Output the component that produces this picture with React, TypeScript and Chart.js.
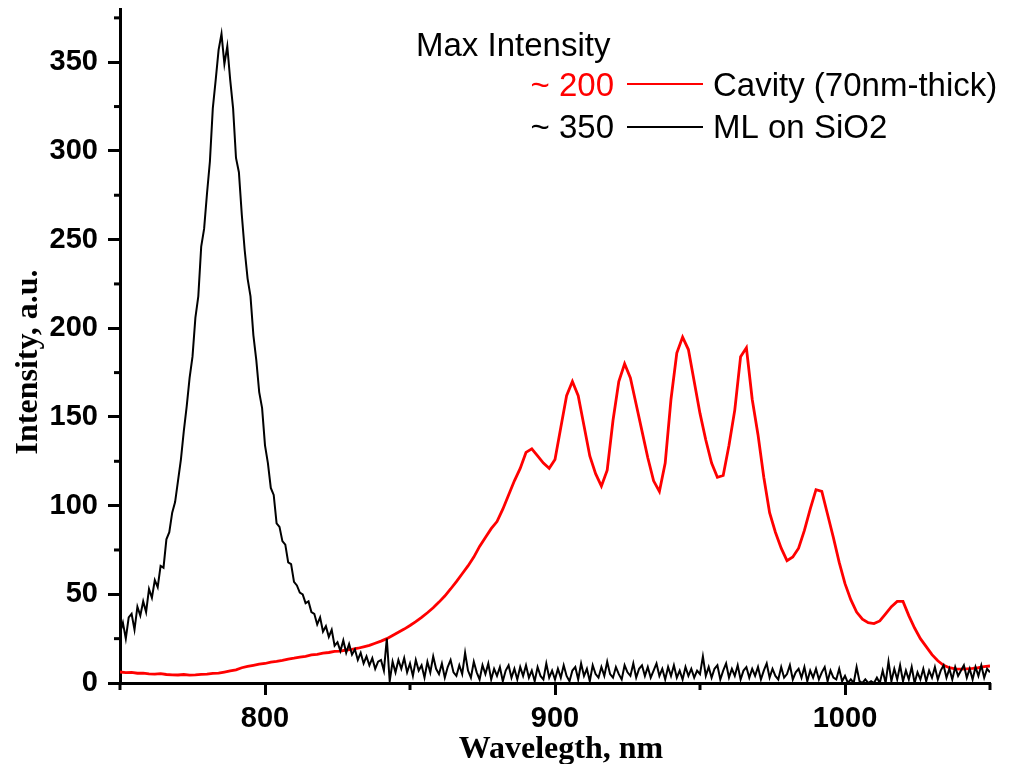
import { useEffect, useRef } from "react";
import { Chart, registerables } from "chart.js";
Chart.register(...registerables);

// ML on SiO2 spectrum, 1 nm steps from 750 nm
const mlStart = 750;
const mlStep = 1;
const mlValues = [
  28, 34, 25, 37, 39, 30, 43, 38, 46, 40,
  53, 48, 58, 54, 66, 65, 81, 85, 96, 102,
  114, 126, 142, 156, 172, 184, 206, 218, 246, 256,
  276, 294, 324, 340, 357, 366, 349, 359, 340, 324,
  296, 288, 264, 244, 228, 218, 196, 182, 164, 155,
  134, 124, 110, 106, 90, 88, 80, 78, 68, 67,
  57, 55, 51, 50, 45, 46, 40, 39, 33, 37,
  29, 32, 26, 30, 21, 23, 18, 24, 17, 22,
  16, 19, 13, 17, 11, 15, 10, 14, 8, 12,
  13, 7, 25, 1, 12, 6, 13, 8, 14, 6,
  11, 4, 13, 7, 10, 3, 12, 6, 15, 8,
  5, 11, 3, 9, 13, 6, 4, 10, 5, 17,
  7, 3, 12, 6, 2, 10, 5, 11, 2, 8,
  4, 9, 1, 7, 10, 3, 8, 2, 9, 4,
  10, 3, 7, 1, 9, 4, 2, 11, 3, 7,
  2, 8, 3, 10, 4, 1, 7, 9, 2, 11,
  4, 8, 1, 10, 5, 3, 9, 4, 12, 5,
  3, 9, 5, 2, 10, 6, 4, 11, 3, 8,
  10, 4, 9, 3, 7, 11, 4, 8, 2, 9,
  4, 10, 3, 7, 2, 9, 4, 8, 3, 7,
  5, 15, 4, 9, 3, 8, 10, 2, 7, 11,
  3, 8, 4, 10, 2, 7, 9, 3, 8, 4,
  9, 2, 7, 11, 3, 8, 4, 2, 9, 3,
  5, 10, 2, 6, 8, 3, 9, 1, 7, 3,
  8, 2, 6, 9, 1, 7, 3, 2, 8, 1,
  4, 0, 2, 0, 9, 1, 0, 2, 0, 1,
  0, 3, 0, 7, 0, 12, 1, 8, 2, 10,
  1, 7, 2, 9, 0, 6, 2, 8, 1, 7,
  3, 9, 2, 7, 10, 3, 8, 2, 9, 4,
  7, 10, 3, 8, 2, 9, 4, 10, 3, 8, 6,
];

// Cavity spectrum, 2 nm steps from 750 nm
const cavityStart = 750;
const cavityStep = 2;
const cavityValues = [
  6.2, 5.8, 6.0, 5.5, 5.6, 5.2, 5.0, 5.3, 4.8, 4.6,
  4.5, 4.8, 4.4, 4.6, 4.9, 5.0, 5.4, 5.6, 6.2, 6.8,
  7.4, 8.6, 9.4, 10.0, 10.6, 11.0, 11.8, 12.2, 12.8, 13.5,
  14.0, 14.6, 15.0, 15.8, 16.2, 16.8, 17.2, 17.8, 18.0, 18.6,
  19.0, 19.6, 20.4, 21.2, 22.4, 23.6, 25.0, 26.8, 28.6, 30.4,
  32.4, 34.6, 37.0, 39.6, 42.4, 45.6, 49.0, 53.0, 57.2, 61.6,
  66.0, 71.0, 77.0, 82.0, 87.0, 91.0, 98.0, 106.0, 114.0, 121.0,
  130, 132, 128, 124, 121, 126, 144, 162, 170, 162,
  145, 128, 118, 111, 120, 148, 170, 180, 172, 157,
  142, 127, 114, 108, 124, 160, 186, 195, 188, 170,
  152, 137, 124, 116, 117, 134, 154, 184, 189, 160,
  140, 116, 96, 85, 76, 69, 71, 76, 86, 98,
  109, 108, 95, 82, 68, 56, 47, 40, 36, 34,
  33.5, 35, 39, 43, 46, 46, 38, 31, 25, 20.5,
  16, 12.5, 10, 8.6, 8, 7.8, 8, 8.2, 8.6, 9.2,
  9.6,
];

const xMin = 750;
const xMax = 1050;
const yMin = 0;
const yMax = 380;
const xTicks = [800, 900, 1000];
const xMinorTicks = [750, 850, 950, 1050];
const yTicks = [0, 50, 100, 150, 200, 250, 300, 350];
const yMinorTicks = [25, 75, 125, 175, 225, 275, 325, 375];

const legendTitle = "Max Intensity";
const seriesNames = ["Cavity (70nm-thick)", "ML on SiO2"];
const seriesMax = ["~ 200", "~ 350"];
const seriesColors = ["#ff0000", "#000000"];
const xTitle = "Wavelegth, nm";
const yTitle = "Intensity, a.u.";

const SANS = "'Liberation Sans', Arial, sans-serif";
const SERIF = "'Liberation Serif', 'Times New Roman', serif";

const decorPlugin = {
  id: "decor",
  afterDraw(chart: any) {
    const ctx = chart.ctx;
    const xs = chart.scales.x;
    const ys = chart.scales.y;
    const area = chart.chartArea;
    ctx.save();
    ctx.strokeStyle = "#000";
    ctx.lineWidth = 3;
    ctx.lineCap = "butt";
    for (const v of xMinorTicks) {
      const px = xs.getPixelForValue(v);
      ctx.beginPath();
      ctx.moveTo(px, area.bottom);
      ctx.lineTo(px, area.bottom + 7);
      ctx.stroke();
    }
    for (const v of yMinorTicks) {
      const py = ys.getPixelForValue(v);
      ctx.beginPath();
      ctx.moveTo(area.left - 6, py);
      ctx.lineTo(area.left, py);
      ctx.stroke();
    }
    ctx.fillStyle = "#000";
    ctx.font = `bold 32px ${SERIF}`;
    ctx.textAlign = "center";
    ctx.textBaseline = "alphabetic";
    ctx.fillText(xTitle, 561, 758);
    ctx.save();
    ctx.translate(37, 362);
    ctx.rotate(-Math.PI / 2);
    ctx.fillText(yTitle, 0, 0);
    ctx.restore();
    ctx.font = `33px ${SANS}`;
    ctx.textAlign = "left";
    ctx.fillStyle = "#000";
    ctx.fillText(legendTitle, 416, 56);
    const rowsBase = [96, 138];
    const rowsLine = [84, 127];
    for (let i = 0; i < seriesNames.length; i++) {
      ctx.fillStyle = seriesColors[i];
      ctx.textAlign = "right";
      ctx.fillText(seriesMax[i], 614, rowsBase[i]);
      ctx.strokeStyle = seriesColors[i];
      ctx.lineWidth = 2;
      ctx.beginPath();
      ctx.moveTo(627, rowsLine[i]);
      ctx.lineTo(703, rowsLine[i]);
      ctx.stroke();
      ctx.fillStyle = "#000";
      ctx.textAlign = "left";
      ctx.fillText(seriesNames[i], 713, rowsBase[i]);
    }
    ctx.restore();
  },
};

export default function App() {
  const ref = useRef<HTMLCanvasElement | null>(null);
  useEffect(() => {
    if (!ref.current) return;
    const mlData = mlValues.map((v, i) => ({ x: mlStart + i * mlStep, y: v }));
    const cavData = cavityValues.map((v, i) => ({ x: cavityStart + i * cavityStep, y: v }));
    const chart = new Chart(ref.current, {
      type: "line",
      data: {
        datasets: [
          {
            label: seriesNames[1],
            data: mlData,
            borderColor: seriesColors[1],
            borderWidth: 2,
            pointRadius: 0,
            tension: 0,
            order: 0,
          },
          {
            label: seriesNames[0],
            data: cavData,
            borderColor: seriesColors[0],
            borderWidth: 2.8,
            pointRadius: 0,
            tension: 0,
            order: 1,
          },
        ],
      },
      options: {
        responsive: false,
        animation: false,
        devicePixelRatio: 1,
        layout: { padding: { top: 9, right: 20, left: 0, bottom: 0 } },
        plugins: { legend: { display: false }, tooltip: { enabled: false }, title: { display: false } },
        scales: {
          x: {
            type: "linear",
            min: xMin,
            max: xMax,
            afterBuildTicks: (s: any) => {
              s.ticks = xTicks.map((v) => ({ value: v }));
            },
            afterFit: (s: any) => {
              s.height = 81;
              s.paddingLeft = 0;
              s.paddingRight = 0;
            },
            border: { display: true, color: "#000", width: 3 },
            grid: { display: true, drawOnChartArea: false, drawTicks: true, tickLength: 12, tickWidth: 3, tickColor: "#000" },
            ticks: {
              color: "#000",
              padding: 7,
              maxRotation: 0,
              font: { family: SANS, size: 29, weight: "bold" },
              callback: (v: any) => String(v),
            },
          },
          y: {
            type: "linear",
            min: yMin,
            max: yMax,
            afterBuildTicks: (s: any) => {
              s.ticks = yTicks.map((v) => ({ value: v }));
            },
            afterFit: (s: any) => {
              s.width = 120;
              s.paddingTop = 0;
              s.paddingBottom = 0;
            },
            border: { display: true, color: "#000", width: 3 },
            grid: { display: true, drawOnChartArea: false, drawTicks: true, tickLength: 12, tickWidth: 3, tickColor: "#000" },
            ticks: {
              color: "#000",
              padding: 10,
              font: { family: SANS, size: 29, weight: "bold" },
              callback: (v: any) => String(v),
            },
          },
        },
      },
      plugins: [decorPlugin],
    });
    return () => chart.destroy();
  }, []);
  return (
    <div style={{ position: "absolute", left: 0, top: 0, width: 1010, height: 764, background: "#fff" }}>
      <canvas ref={ref} width={1010} height={764} style={{ display: "block" }} />
    </div>
  );
}
